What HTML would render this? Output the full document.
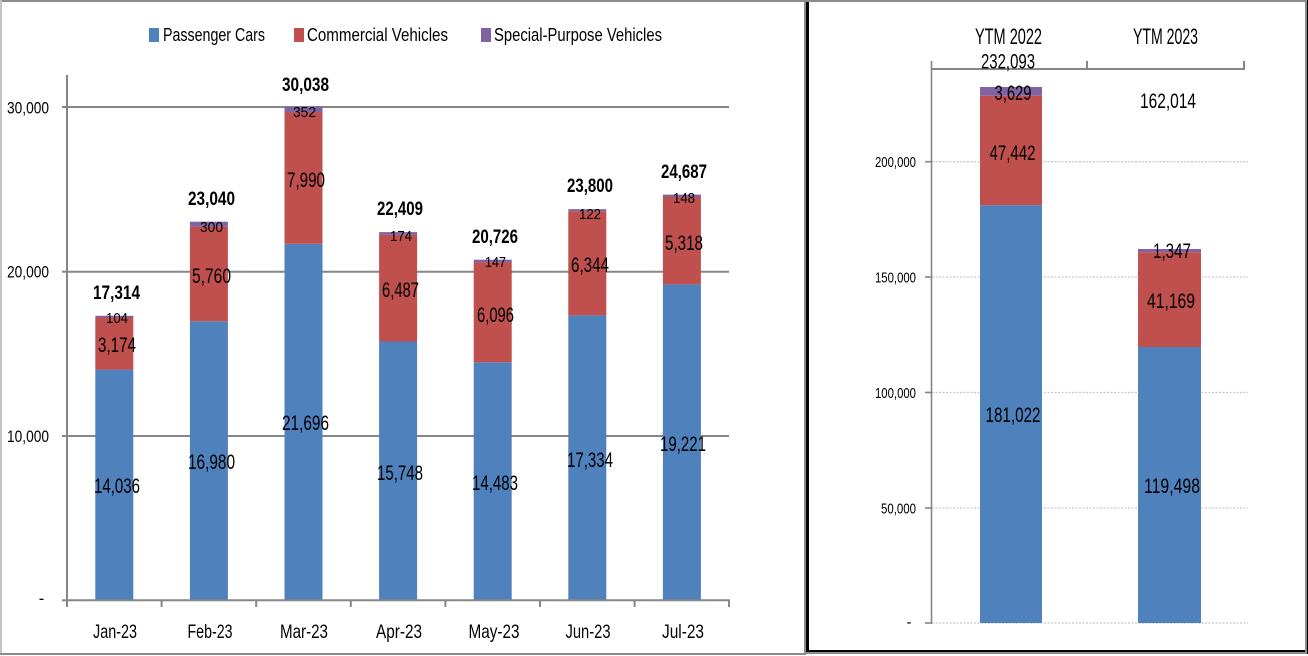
<!DOCTYPE html>
<html>
<head>
<meta charset="utf-8">
<style>
  html, body { margin: 0; padding: 0; background: #fff; }
  body { width: 1308px; height: 656px; overflow: hidden; }
  svg { display: block; }
  text { font-family: "Liberation Sans", Arial, sans-serif; fill: #000; }
  .b { font-weight: bold; }
</style>
</head>
<body>
<svg width="1308" height="656" viewBox="0 0 1308 656" xmlns="http://www.w3.org/2000/svg">
  <rect x="0" y="0" width="1308" height="656" fill="#fff"/>

  <!-- ===== Panel frames ===== -->
  <!-- left panel -->
  <rect x="0" y="0" width="806" height="2" fill="#8c8c8c"/>
  <rect x="0" y="0" width="2" height="655" fill="#c4c4c4"/>
  <rect x="0" y="653" width="806" height="2" fill="#8c8c8c"/>
  <!-- divider -->
  <rect x="804" y="0" width="2" height="654" fill="#8c8c8c"/>
  <rect x="806" y="0" width="3" height="654" fill="#000"/>
  <!-- right panel -->
  <rect x="806" y="0" width="502" height="2" fill="#8c8c8c"/>
  <rect x="806" y="650" width="502" height="2" fill="#000"/>
  <rect x="806" y="652" width="502" height="2" fill="#8c8c8c"/>
  <rect x="1305" y="0" width="2" height="654" fill="#8c8c8c"/>
  <rect x="1307" y="0" width="1" height="654" fill="#000"/>

  <!-- ===== LEFT CHART ===== -->
  <!-- legend -->
  <rect x="149" y="28" width="10" height="14" fill="#4F81BD"/>
  <text x="163" y="41" font-size="18" textLength="102" lengthAdjust="spacingAndGlyphs">Passenger Cars</text>
  <rect x="294" y="28" width="10" height="14" fill="#C0504D"/>
  <text x="307" y="41" font-size="18" textLength="141" lengthAdjust="spacingAndGlyphs">Commercial Vehicles</text>
  <rect x="481" y="28" width="10" height="14" fill="#8064A2"/>
  <text x="494" y="41" font-size="18" textLength="168" lengthAdjust="spacingAndGlyphs">Special-Purpose Vehicles</text>

  <!-- gridlines -->
  <g stroke="#868686" stroke-width="2">
    <line x1="62" y1="107" x2="729" y2="107"/>
    <line x1="62" y1="271.7" x2="729" y2="271.7"/>
    <line x1="62" y1="436" x2="729" y2="436"/>
  </g>

  <!-- bars -->
  <g>
    <!-- Jan -->
    <rect x="95.3" y="369.6" width="38" height="230.7" fill="#4F81BD"/>
    <rect x="95.3" y="317.5" width="38" height="52.1" fill="#C0504D"/>
    <rect x="95.3" y="315.8" width="38" height="1.7" fill="#8064A2"/>
    <!-- Feb -->
    <rect x="189.9" y="321.3" width="38" height="279" fill="#4F81BD"/>
    <rect x="189.9" y="226.6" width="38" height="94.7" fill="#C0504D"/>
    <rect x="189.9" y="221.7" width="38" height="4.9" fill="#8064A2"/>
    <!-- Mar -->
    <rect x="284.5" y="243.8" width="38" height="356.5" fill="#4F81BD"/>
    <rect x="284.5" y="112.5" width="38" height="131.3" fill="#C0504D"/>
    <rect x="284.5" y="106.7" width="38" height="5.8" fill="#8064A2"/>
    <!-- Apr -->
    <rect x="379.1" y="341.5" width="38" height="258.8" fill="#4F81BD"/>
    <rect x="379.1" y="234.9" width="38" height="106.6" fill="#C0504D"/>
    <rect x="379.1" y="232.1" width="38" height="2.8" fill="#8064A2"/>
    <!-- May -->
    <rect x="473.7" y="362.3" width="38" height="238" fill="#4F81BD"/>
    <rect x="473.7" y="262.1" width="38" height="100.2" fill="#C0504D"/>
    <rect x="473.7" y="259.7" width="38" height="2.4" fill="#8064A2"/>
    <!-- Jun -->
    <rect x="568.3" y="315.4" width="38" height="284.9" fill="#4F81BD"/>
    <rect x="568.3" y="211.2" width="38" height="104.2" fill="#C0504D"/>
    <rect x="568.3" y="209.2" width="38" height="2" fill="#8064A2"/>
    <!-- Jul -->
    <rect x="662.9" y="284.4" width="38" height="315.9" fill="#4F81BD"/>
    <rect x="662.9" y="197.0" width="38" height="87.4" fill="#C0504D"/>
    <rect x="662.9" y="194.6" width="38" height="2.4" fill="#8064A2"/>
  </g>

  <!-- axes -->
  <g stroke="#868686" stroke-width="2">
    <line x1="67" y1="75" x2="67" y2="601"/>
    <line x1="62" y1="600.3" x2="730" y2="600.3"/>
    <line x1="67" y1="600" x2="67" y2="607"/>
    <line x1="161.6" y1="600" x2="161.6" y2="607"/>
    <line x1="256.2" y1="600" x2="256.2" y2="607"/>
    <line x1="350.8" y1="600" x2="350.8" y2="607"/>
    <line x1="445.4" y1="600" x2="445.4" y2="607"/>
    <line x1="540" y1="600" x2="540" y2="607"/>
    <line x1="634.6" y1="600" x2="634.6" y2="607"/>
    <line x1="729" y1="600" x2="729" y2="607"/>
  </g>

  <!-- y tick labels -->
  <text x="49" y="113.5" font-size="16.5" text-anchor="end" textLength="42" lengthAdjust="spacingAndGlyphs">30,000</text>
  <text x="49" y="277.7" font-size="16.5" text-anchor="end" textLength="42" lengthAdjust="spacingAndGlyphs">20,000</text>
  <text x="49" y="442" font-size="16.5" text-anchor="end" textLength="42" lengthAdjust="spacingAndGlyphs">10,000</text>
  <text x="41.5" y="604" font-size="16.5" text-anchor="middle">-</text>

  <!-- category labels -->
  <text x="115" y="638" font-size="19.5" text-anchor="middle" textLength="44" lengthAdjust="spacingAndGlyphs">Jan-23</text>
  <text x="210" y="638" font-size="19.5" text-anchor="middle" textLength="45" lengthAdjust="spacingAndGlyphs">Feb-23</text>
  <text x="304" y="638" font-size="19.5" text-anchor="middle" textLength="48" lengthAdjust="spacingAndGlyphs">Mar-23</text>
  <text x="399" y="638" font-size="19.5" text-anchor="middle" textLength="46" lengthAdjust="spacingAndGlyphs">Apr-23</text>
  <text x="494" y="638" font-size="19.5" text-anchor="middle" textLength="51" lengthAdjust="spacingAndGlyphs">May-23</text>
  <text x="588" y="638" font-size="19.5" text-anchor="middle" textLength="45" lengthAdjust="spacingAndGlyphs">Jun-23</text>
  <text x="683" y="638" font-size="19.5" text-anchor="middle" textLength="42" lengthAdjust="spacingAndGlyphs">Jul-23</text>

  <!-- data labels: Jan -->
  <text class="b" x="116.5" y="299" font-size="19.5" text-anchor="middle" textLength="47" lengthAdjust="spacingAndGlyphs">17,314</text>
  <text x="117" y="323" font-size="15" text-anchor="middle" textLength="22" lengthAdjust="spacingAndGlyphs">104</text>
  <text x="117" y="352" font-size="21" text-anchor="middle" textLength="38" lengthAdjust="spacingAndGlyphs">3,174</text>
  <text x="117" y="493" font-size="21" text-anchor="middle" textLength="46" lengthAdjust="spacingAndGlyphs">14,036</text>
  <!-- Feb -->
  <text class="b" x="211.5" y="205" font-size="19.5" text-anchor="middle" textLength="47" lengthAdjust="spacingAndGlyphs">23,040</text>
  <text x="211.5" y="232" font-size="15" text-anchor="middle" textLength="23" lengthAdjust="spacingAndGlyphs">300</text>
  <text x="211.5" y="283" font-size="21" text-anchor="middle" textLength="39" lengthAdjust="spacingAndGlyphs">5,760</text>
  <text x="211.5" y="469" font-size="21" text-anchor="middle" textLength="47" lengthAdjust="spacingAndGlyphs">16,980</text>
  <!-- Mar -->
  <text class="b" x="305.5" y="91" font-size="19.5" text-anchor="middle" textLength="47" lengthAdjust="spacingAndGlyphs">30,038</text>
  <text x="304.5" y="117" font-size="15" text-anchor="middle" textLength="23" lengthAdjust="spacingAndGlyphs">352</text>
  <text x="306" y="187" font-size="21" text-anchor="middle" textLength="38" lengthAdjust="spacingAndGlyphs">7,990</text>
  <text x="305.5" y="430" font-size="21" text-anchor="middle" textLength="47" lengthAdjust="spacingAndGlyphs">21,696</text>
  <!-- Apr -->
  <text class="b" x="400" y="215" font-size="19.5" text-anchor="middle" textLength="46" lengthAdjust="spacingAndGlyphs">22,409</text>
  <text x="401" y="241" font-size="15" text-anchor="middle" textLength="22" lengthAdjust="spacingAndGlyphs">174</text>
  <text x="400.5" y="297" font-size="21" text-anchor="middle" textLength="37" lengthAdjust="spacingAndGlyphs">6,487</text>
  <text x="400" y="480" font-size="21" text-anchor="middle" textLength="46" lengthAdjust="spacingAndGlyphs">15,748</text>
  <!-- May -->
  <text class="b" x="495" y="243" font-size="19.5" text-anchor="middle" textLength="46" lengthAdjust="spacingAndGlyphs">20,726</text>
  <text x="495.5" y="267" font-size="15" text-anchor="middle" textLength="21" lengthAdjust="spacingAndGlyphs">147</text>
  <text x="495.5" y="322" font-size="21" text-anchor="middle" textLength="37" lengthAdjust="spacingAndGlyphs">6,096</text>
  <text x="495" y="490" font-size="21" text-anchor="middle" textLength="46" lengthAdjust="spacingAndGlyphs">14,483</text>
  <!-- Jun -->
  <text class="b" x="590" y="192" font-size="19.5" text-anchor="middle" textLength="46" lengthAdjust="spacingAndGlyphs">23,800</text>
  <text x="590" y="219" font-size="15" text-anchor="middle" textLength="22" lengthAdjust="spacingAndGlyphs">122</text>
  <text x="590" y="272" font-size="21" text-anchor="middle" textLength="38" lengthAdjust="spacingAndGlyphs">6,344</text>
  <text x="590" y="467" font-size="21" text-anchor="middle" textLength="46" lengthAdjust="spacingAndGlyphs">17,334</text>
  <!-- Jul -->
  <text class="b" x="684" y="178" font-size="19.5" text-anchor="middle" textLength="46" lengthAdjust="spacingAndGlyphs">24,687</text>
  <text x="684" y="203" font-size="15" text-anchor="middle" textLength="22" lengthAdjust="spacingAndGlyphs">148</text>
  <text x="684" y="250" font-size="21" text-anchor="middle" textLength="38" lengthAdjust="spacingAndGlyphs">5,318</text>
  <text x="683" y="451" font-size="21" text-anchor="middle" textLength="46" lengthAdjust="spacingAndGlyphs">19,221</text>

  <!-- ===== RIGHT CHART ===== -->
  <!-- dotted gridlines -->
  <g stroke="#c8c8c8" stroke-width="1.3" stroke-dasharray="2,1.5">
    <line x1="932" y1="161.7" x2="1248" y2="161.7"/>
    <line x1="932" y1="277" x2="1248" y2="277"/>
    <line x1="932" y1="392.5" x2="1248" y2="392.5"/>
    <line x1="932" y1="508" x2="1248" y2="508"/>
    <line x1="932" y1="623" x2="1248" y2="623"/>
  </g>

  <!-- bars -->
  <rect x="980" y="205.2" width="62" height="417.8" fill="#4F81BD"/>
  <rect x="980" y="95.7" width="62" height="109.5" fill="#C0504D"/>
  <rect x="980" y="87" width="62" height="8.7" fill="#8064A2"/>

  <rect x="1138" y="347" width="63" height="276" fill="#4F81BD"/>
  <rect x="1138" y="252.2" width="63" height="94.8" fill="#C0504D"/>
  <rect x="1138" y="249" width="63" height="3.2" fill="#8064A2"/>

  <!-- axes -->
  <g stroke="#868686" stroke-width="1.6">
    <line x1="931.5" y1="61" x2="931.5" y2="624"/>
    <line x1="925" y1="161.7" x2="932" y2="161.7"/>
    <line x1="925" y1="277" x2="932" y2="277"/>
    <line x1="925" y1="392.5" x2="932" y2="392.5"/>
    <line x1="925" y1="508" x2="932" y2="508"/>
    <line x1="925" y1="623" x2="932" y2="623"/>
  </g>
  <g stroke="#868686" stroke-width="2">
    <line x1="931" y1="69" x2="1245" y2="69"/>
    <line x1="1087" y1="61" x2="1087" y2="69"/>
    <line x1="1244" y1="61" x2="1244" y2="70"/>
  </g>

  <!-- category labels -->
  <text x="1008.5" y="44" font-size="22" text-anchor="middle" textLength="67" lengthAdjust="spacingAndGlyphs">YTM 2022</text>
  <text x="1165.5" y="44" font-size="22" text-anchor="middle" textLength="65" lengthAdjust="spacingAndGlyphs">YTM 2023</text>

  <!-- y tick labels -->
  <text x="916" y="167.2" font-size="15" text-anchor="end" textLength="41" lengthAdjust="spacingAndGlyphs">200,000</text>
  <text x="916" y="282.5" font-size="15" text-anchor="end" textLength="41" lengthAdjust="spacingAndGlyphs">150,000</text>
  <text x="916" y="398" font-size="15" text-anchor="end" textLength="41" lengthAdjust="spacingAndGlyphs">100,000</text>
  <text x="916" y="513.5" font-size="15" text-anchor="end" textLength="35" lengthAdjust="spacingAndGlyphs">50,000</text>
  <text x="909" y="627" font-size="15" text-anchor="middle">-</text>

  <!-- data labels -->
  <text x="1008" y="68.5" font-size="21.5" text-anchor="middle" textLength="54" lengthAdjust="spacingAndGlyphs">232,093</text>
  <text x="1013" y="100" font-size="21.5" text-anchor="middle" textLength="37" lengthAdjust="spacingAndGlyphs">3,629</text>
  <text x="1168" y="108" font-size="21.5" text-anchor="middle" textLength="56" lengthAdjust="spacingAndGlyphs">162,014</text>
  <text x="1012.5" y="160" font-size="21.5" text-anchor="middle" textLength="46" lengthAdjust="spacingAndGlyphs">47,442</text>
  <text x="1013" y="422" font-size="21.5" text-anchor="middle" textLength="55" lengthAdjust="spacingAndGlyphs">181,022</text>
  <text x="1172" y="258" font-size="21.5" text-anchor="middle" textLength="38" lengthAdjust="spacingAndGlyphs">1,347</text>
  <text x="1171" y="308" font-size="21.5" text-anchor="middle" textLength="48" lengthAdjust="spacingAndGlyphs">41,169</text>
  <text x="1172" y="493" font-size="21.5" text-anchor="middle" textLength="56" lengthAdjust="spacingAndGlyphs">119,498</text>
</svg>
</body>
</html>
